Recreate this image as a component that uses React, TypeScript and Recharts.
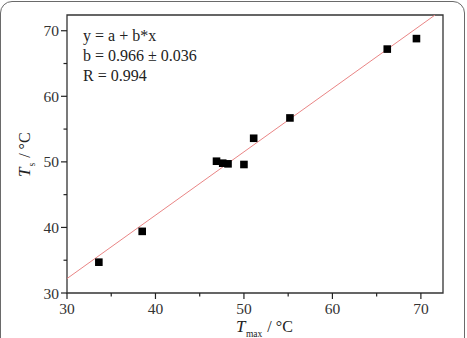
import React from 'react';
import { ComposedChart, Scatter, XAxis, YAxis, ReferenceLine, ReferenceArea } from 'recharts';

const tMax = [33.6, 38.5, 46.9, 47.6, 48.2, 50.0, 51.1, 55.2, 66.2, 69.5];
const tS = [34.7, 39.4, 50.1, 49.8, 49.7, 49.6, 53.6, 56.7, 67.2, 68.8];
const fitX = [30, 71.6];
const fitY = [32.2, 72.4];
const xTicks = [30, 35, 40, 45, 50, 55, 60, 65, 70];
const yTicks = [30, 35, 40, 45, 50, 55, 60, 65, 70];
const xDomain = [30, 72.5];
const yDomain = [30, 72.4];
const annotation = ['y = a + b*x', 'b = 0.966 \u00b1 0.036', 'R = 0.994'];

const points = tMax.map((x, i) => ({ x, y: tS[i] }));
const segment = fitX.map((x, i) => ({ x, y: fitY[i] }));

const FONT = 'Liberation Serif, Times New Roman, DejaVu Serif, serif';
const fontStyle = { fontFamily: FONT };
const TS = 6;
const TM = 2;
const W = 467;
const H = 338;

const XTick = (props: any) => {
  const { x, y, payload } = props;
  const ay = y - TS - TM;
  const major = payload.value % 10 === 0;
  return (
    <g>
      <line x1={x} x2={x} y1={ay} y2={ay + (major ? 6 : 3.5)} stroke="#222" strokeWidth={1.2} />
      {major && (
        <text x={x} y={ay + 21} textAnchor="middle" fontSize={15.5} style={fontStyle} fill="#333">
          {payload.value}
        </text>
      )}
    </g>
  );
};

const YTick = (props: any) => {
  const { x, y, payload } = props;
  const ax = x + TS + TM;
  const major = payload.value % 10 === 0;
  return (
    <g>
      <line x1={ax} x2={ax - (major ? 6 : 3.5)} y1={y} y2={y} stroke="#222" strokeWidth={1.2} />
      {major && (
        <text x={ax - 8} y={y + 5.5} textAnchor="end" fontSize={15.5} style={fontStyle} fill="#333">
          {payload.value}
        </text>
      )}
    </g>
  );
};

const Square = (props: any) => {
  const { cx, cy } = props;
  return <rect x={cx - 3.8} y={cy - 3.8} width={7.6} height={7.6} fill="#000" />;
};

export default function App() {
  return (
    <div style={{ position: 'absolute', left: 0, top: 0, width: W, height: H, background: '#fff', overflow: 'hidden' }}>
      <div
        style={{
          position: 'absolute',
          left: 0,
          top: 1,
          width: 463,
          height: 400,
          border: '1.5px solid #6a6a6a',
          borderRadius: 12,
        }}
      />
      <div style={{ position: 'absolute', left: 0, top: 0 }}>
        <ComposedChart width={W} height={H} margin={{ top: 15, right: 24, left: 0, bottom: 0 }}>
          <XAxis
            type="number"
            dataKey="x"
            domain={xDomain}
            ticks={xTicks}
            allowDataOverflow
            height={45}
            axisLine={false}
            tickLine={false}
            tickSize={TS}
            tickMargin={TM}
            tick={<XTick />}
            interval={0}
          />
          <YAxis
            type="number"
            dataKey="y"
            domain={yDomain}
            ticks={yTicks}
            allowDataOverflow
            width={67}
            axisLine={false}
            tickLine={false}
            tickSize={TS}
            tickMargin={TM}
            tick={<YTick />}
            interval={0}
          />
          <ReferenceArea
            x1={xDomain[0]}
            x2={xDomain[1]}
            y1={yDomain[0]}
            y2={yDomain[1]}
            fill="none"
            fillOpacity={0}
            stroke="#333"
            strokeWidth={1.3}
            strokeOpacity={1}
          />
          <ReferenceLine segment={segment} stroke="#e98585" strokeWidth={1} ifOverflow="hidden" />
          <Scatter data={points} shape={<Square />} isAnimationActive={false} />
        </ComposedChart>
      </div>
      <svg width={W} height={H} style={{ position: 'absolute', left: 0, top: 0, pointerEvents: 'none' }}>
        <g style={fontStyle} fill="#222" fontSize={16}>
          {annotation.map((t, i) => (
            <text key={i} x={83} y={41 + i * 19.8} style={fontStyle}>
              {t}
            </text>
          ))}
          <text x={236} y={331.5} style={fontStyle}>
            <tspan fontStyle="italic" fontSize={17}>T</tspan>
            <tspan fontSize={9.5} dx={0.5} dy={5}>max</tspan>
            <tspan dx={5} dy={-5}>/ °C</tspan>
          </text>
          <text transform="rotate(-90, 30, 177)" x={30} y={177} style={fontStyle}>
            <tspan fontStyle="italic" fontSize={17}>T</tspan>
            <tspan fontSize={9.5} dx={1} dy={5}>s</tspan>
            <tspan dx={5} dy={-5}>/ °C</tspan>
          </text>
        </g>
      </svg>
    </div>
  );
}
